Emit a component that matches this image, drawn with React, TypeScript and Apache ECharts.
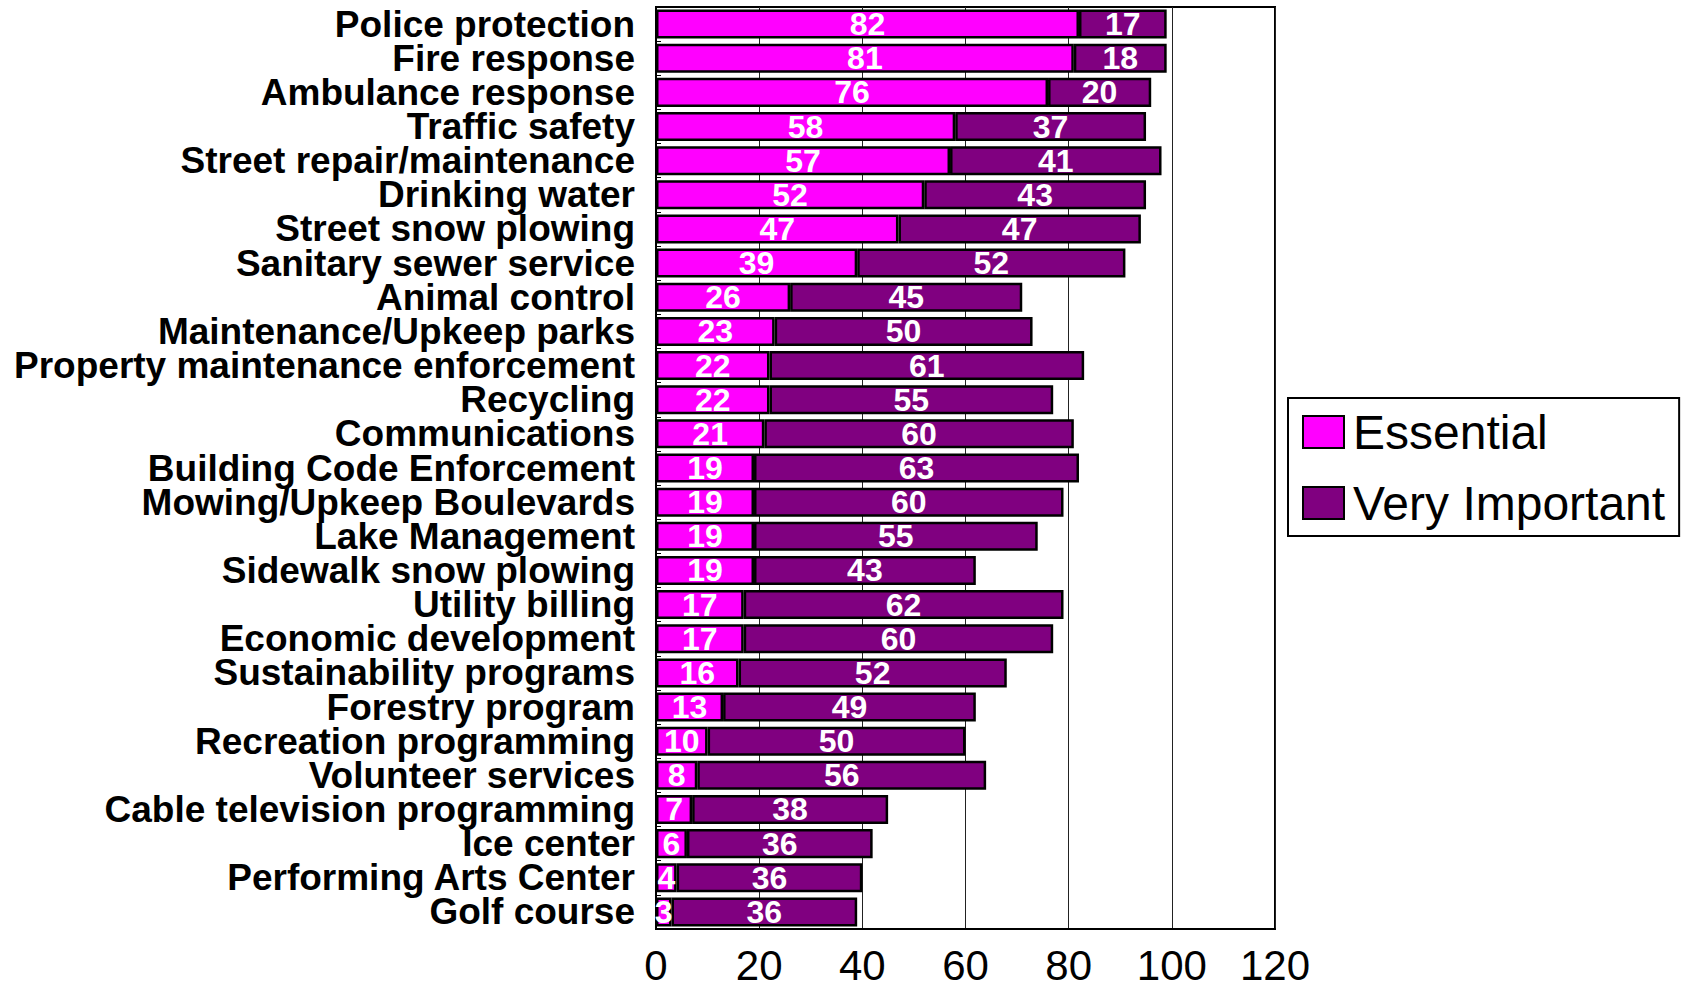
import React, { useEffect, useRef } from "react";
import * as echarts from "echarts";

const categories = [
  "Police protection",
  "Fire response",
  "Ambulance response",
  "Traffic safety",
  "Street repair/maintenance",
  "Drinking water",
  "Street snow plowing",
  "Sanitary sewer service",
  "Animal control",
  "Maintenance/Upkeep parks",
  "Property maintenance enforcement",
  "Recycling",
  "Communications",
  "Building Code Enforcement",
  "Mowing/Upkeep Boulevards",
  "Lake Management",
  "Sidewalk snow plowing",
  "Utility billing",
  "Economic development",
  "Sustainability programs",
  "Forestry program",
  "Recreation programming",
  "Volunteer services",
  "Cable television programming",
  "Ice center",
  "Performing Arts Center",
  "Golf course",
];

const essential = [82, 81, 76, 58, 57, 52, 47, 39, 26, 23, 22, 22, 21, 19, 19, 19, 19, 17, 17, 16, 13, 10, 8, 7, 6, 4, 3];
const veryImportant = [17, 18, 20, 37, 41, 43, 47, 52, 45, 50, 61, 55, 60, 63, 60, 55, 43, 62, 60, 52, 49, 50, 56, 38, 36, 36, 36];

const xTicks = [0, 20, 40, 60, 80, 100, 120];

const FONT = "'Liberation Sans', Arial, Helvetica, sans-serif";

export default function App() {
  const ref = useRef<HTMLDivElement>(null);

  useEffect(() => {
    if (!ref.current) return;
    const chart = echarts.init(ref.current, undefined, { renderer: "svg" });

    const barLabel = {
      show: true,
      position: "inside" as const,
      color: "#ffffff",
      fontFamily: FONT,
      fontWeight: "bold" as const,
      fontSize: 32,
    };

    chart.setOption({
      animation: false,
      backgroundColor: "#ffffff",
      textStyle: { fontFamily: FONT },
      grid: {
        left: 656,
        top: 7,
        right: 407,
        bottom: 59,
        show: true,
        borderColor: "#000000",
        borderWidth: 2,
        backgroundColor: "transparent",
      },
      legend: {
        orient: "vertical",
        left: 1288,
        top: 398,
        padding: [9, 14, 8, 14],
        itemGap: 21,
        itemWidth: 41,
        itemHeight: 32,
        icon: "rect",
        borderColor: "#000000",
        borderWidth: 2,
        backgroundColor: "#ffffff",
        textStyle: {
          fontFamily: FONT,
          fontSize: 48,
          color: "#000000",
          lineHeight: 50,
          padding: [0, 0, 0, 4],
        },
        data: ["Essential", "Very Important"],
      },
      xAxis: {
        type: "value",
        min: xTicks[0],
        max: xTicks[xTicks.length - 1],
        interval: 20,
        axisLine: { show: true, lineStyle: { color: "#000000", width: 2 } },
        axisTick: { show: false },
        splitLine: { show: true, lineStyle: { color: "#222222", width: 1 } },
        axisLabel: {
          fontFamily: FONT,
          fontSize: 42,
          lineHeight: 42,
          color: "#000000",
          margin: 15,
        },
      },
      yAxis: {
        type: "category",
        inverse: true,
        data: categories,
        axisLine: { show: true, lineStyle: { color: "#000000", width: 2 } },
        axisTick: { show: true, inside: true, length: 5, lineStyle: { color: "#000000", width: 1 } },
        axisLabel: {
          interval: 0,
          fontFamily: FONT,
          fontWeight: "bold",
          fontSize: 37,
          lineHeight: 32,
          color: "#000000",
          margin: 21,
        },
      },
      series: [
        {
          name: "Essential",
          type: "bar",
          stack: "total",
          barCategoryGap: "15%",
          data: essential,
          itemStyle: { color: "#ff00ff", borderColor: "#000000", borderWidth: 2.5 },
          label: barLabel,
        },
        {
          name: "Very Important",
          type: "bar",
          stack: "total",
          barCategoryGap: "15%",
          data: veryImportant,
          itemStyle: { color: "#800080", borderColor: "#000000", borderWidth: 2.5 },
          label: barLabel,
        },
      ],
    });

    return () => chart.dispose();
  }, []);

  return (
    <div
      ref={ref}
      style={{ position: "fixed", left: 0, top: 0, width: 1682, height: 988, background: "#ffffff" }}
    />
  );
}
